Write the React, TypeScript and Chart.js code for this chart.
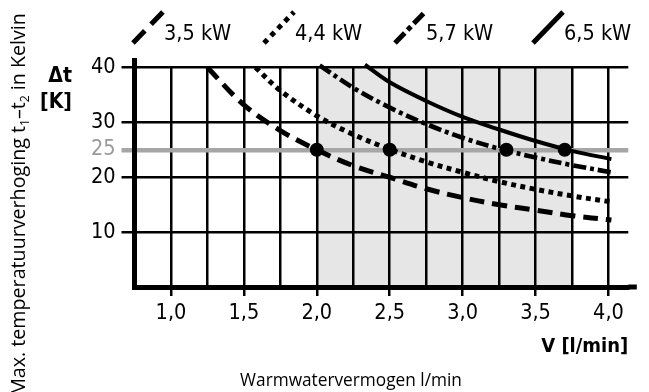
import React, { useEffect, useRef } from 'react';
import { Chart, registerables } from 'chart.js';

Chart.register(...registerables);

// ---------- data ----------
const seriesNames = ['3,5 kW', '4,4 kW', '5,7 kW', '6,5 kW'];

const flow35 = [1.25, 1.5, 1.75, 2.0, 2.25, 2.5, 2.75, 3.0, 3.25, 3.5, 3.75, 4.02];
const delta35 = [40.0, 33.2, 28.5, 25.0, 22.1, 20.0, 17.9, 16.3, 15.0, 14.0, 13.0, 12.2];

const flow44 = [1.58, 1.75, 2.0, 2.25, 2.5, 2.75, 3.0, 3.25, 3.5, 3.75, 4.02];
const delta44 = [40.0, 35.8, 31.2, 27.8, 25.1, 22.8, 20.9, 19.2, 17.8, 16.6, 15.5];

const flow57 = [2.02, 2.25, 2.5, 2.75, 3.0, 3.25, 3.5, 3.75, 4.02];
const delta57 = [40.4, 36.3, 32.7, 29.7, 27.2, 25.2, 23.6, 22.2, 20.9];

const flow65 = [2.33, 2.5, 2.75, 3.0, 3.25, 3.5, 3.75, 4.02];
const delta65 = [40.5, 37.3, 33.9, 31.0, 28.7, 26.6, 24.8, 23.3];

const markerFlow = [2.0, 2.5, 3.3, 3.7];
const markerDelta = [25, 25, 25, 25];

const xGridValues = [1.0, 1.25, 1.5, 1.75, 2.0, 2.25, 2.5, 2.75, 3.0, 3.25, 3.5, 3.75, 4.0];
const xLabelValues = [1.0, 1.5, 2.0, 2.5, 3.0, 3.5, 4.0];
const xLabelTexts = ['1,0', '1,5', '2,0', '2,5', '3,0', '3,5', '4,0'];
const yTickValues = [10, 20, 25, 30, 40];
const yTickLabels = ['10', '20', '25', '30', '40'];
const referenceDelta = 25;
const shadedFrom = 2.0;
const shadedTo = 3.75;

const xTitle = 'V [l/min]';
const yUnitTop = 'Δt';
const yUnitBottom = '[K]';
const bottomCaption = 'Warmwatervermogen l/min';
const sideTitleParts = [
  { t: 'Max. temperatuurverhoging t', sub: false },
  { t: '1', sub: true },
  { t: '–t', sub: false },
  { t: '2', sub: true },
  { t: ' in Kelvin', sub: false },
];

// ---------- styling ----------
const BLACK = '#000000';
const GRID_GREY = '#a6a6a6';
const LABEL_GREY = '#9a9a9a';
const SHADE = '#e6e6e6';
const CONDENSED = '"DejaVu Sans Condensed", "Liberation Sans Narrow", "DejaVu Sans", sans-serif';
const HUMANIST = '"Open Sans", "Noto Sans", "DejaVu Sans", sans-serif';

const seriesStyles = [
  { dash: [15, 8], width: 5, legendDash: [17, 9] },
  { dash: [5, 4.5], width: 5, legendDash: [5, 5] },
  { dash: [13, 4, 4, 4], width: 4.6, legendDash: [14, 4, 5, 4] },
  { dash: [], width: 4, legendDash: [] },
];
const legendX = [133, 264, 395, 533];

const curves = [
  { xs: flow35, ys: delta35 },
  { xs: flow44, ys: delta44 },
  { xs: flow57, ys: delta57 },
  { xs: flow65, ys: delta65 },
];

const near = (a: number, b: number) => Math.abs(a - b) < 1e-6;

const shadePlugin = {
  id: 'shadeBand',
  beforeDraw(chart: any) {
    const { ctx, scales } = chart;
    const x = scales.x, y = scales.y;
    const l = x.getPixelForValue(shadedFrom);
    const r = x.getPixelForValue(shadedTo);
    const t = y.getPixelForValue(y.max);
    const b = y.getPixelForValue(0);
    ctx.save();
    ctx.fillStyle = SHADE;
    ctx.fillRect(l, t, r - l, b - t);
    ctx.restore();
  },
};

const axisExtensionPlugin = {
  id: 'axisExtension',
  afterDraw(chart: any) {
    const { ctx, chartArea: ca } = chart;
    ctx.save();
    ctx.fillStyle = BLACK;
    ctx.fillRect(ca.left - 2.5, ca.top - 9.5, 5, 10);
    ctx.fillRect(ca.right, ca.bottom - 2.5, 8.5, 5);
    ctx.restore();
  },
};

const textPlugin = {
  id: 'extraText',
  afterDraw(chart: any) {
    const { ctx } = chart;
    ctx.save();
    ctx.fillStyle = BLACK;

    // unit label at top of y axis
    ctx.font = `bold 21px ${CONDENSED}`;
    ctx.textAlign = 'right';
    ctx.textBaseline = 'alphabetic';
    ctx.fillText(yUnitTop, 72, 81.5);
    ctx.fillText(yUnitBottom, 72, 108);

    // bottom caption
    ctx.font = `18px ${HUMANIST}`;
    const capW = ctx.measureText(bottomCaption).width;
    const capSize = 18 * 222 / capW;
    ctx.font = `${capSize}px ${HUMANIST}`;
    ctx.textAlign = 'center';
    ctx.fillText(bottomCaption, 351, 386);

    // rotated side title
    const base = 18;
    const measure = (size: number) => {
      let w = 0;
      sideTitleParts.forEach((p) => {
        ctx.font = `${p.sub ? size * 0.62 : size}px ${HUMANIST}`;
        w += ctx.measureText(p.t).width;
      });
      return w;
    };
    const size = base * 383 / measure(base);
    const total = measure(size);
    ctx.translate(25, 204.5);
    ctx.rotate(-Math.PI / 2);
    ctx.textAlign = 'left';
    let cx = -total / 2;
    sideTitleParts.forEach((p) => {
      ctx.font = `${p.sub ? size * 0.62 : size}px ${HUMANIST}`;
      ctx.fillText(p.t, cx, p.sub ? size * 0.2 : 0);
      cx += ctx.measureText(p.t).width;
    });
    ctx.restore();

    // legend
    ctx.save();
    chart.data.datasets.slice(0, seriesNames.length).forEach((ds: any, i: number) => {
      const x0 = legendX[i];
      ctx.strokeStyle = BLACK;
      ctx.lineWidth = 5;
      ctx.lineCap = 'butt';
      ctx.setLineDash(seriesStyles[i].legendDash);
      ctx.beginPath();
      ctx.moveTo(x0, 43);
      ctx.lineTo(x0 + 30, 12);
      ctx.stroke();
      ctx.setLineDash([]);
      ctx.fillStyle = BLACK;
      ctx.font = `21.5px ${CONDENSED}`;
      ctx.textAlign = 'left';
      ctx.textBaseline = 'alphabetic';
      ctx.fillText(ds.label, x0 + 31, 40);
    });
    ctx.restore();
  },
};

export default function App() {
  const ref = useRef<HTMLCanvasElement>(null);

  useEffect(() => {
    const lineSets: any[] = curves.map((c, i) => ({
      type: 'line',
      label: seriesNames[i],
      data: c.xs.map((x, j) => ({ x, y: c.ys[j] })),
      borderColor: BLACK,
      borderWidth: seriesStyles[i].width,
      borderDash: seriesStyles[i].dash,
      borderCapStyle: 'butt',
      pointRadius: 0,
      tension: 0.35,
      fill: false,
      clip: false,
      order: 2,
    }));
    const markerSet: any = {
      type: 'line',
      label: 'markers',
      data: markerFlow.map((x, j) => ({ x, y: markerDelta[j] })),
      showLine: false,
      pointRadius: 7,
      pointBackgroundColor: BLACK,
      pointBorderWidth: 0,
      borderColor: BLACK,
      clip: false,
      order: 0,
    };

    const chart = new Chart(ref.current as HTMLCanvasElement, {
      type: 'line',
      data: { datasets: [...lineSets, markerSet] },
      options: {
        responsive: false,
        devicePixelRatio: 1,
        animation: false,
        events: [],
        layout: { padding: { top: 67.5, right: 20.7, left: 0, bottom: 0 } },
        plugins: {
          legend: { display: false },
          tooltip: { enabled: false },
        },
        scales: {
          x: {
            type: 'linear',
            min: 0.75,
            max: 4.136,
            afterFit: (s: any) => { s.height = 105; },
            afterBuildTicks: (s: any) => { s.ticks = xGridValues.map((v) => ({ value: v })); },
            grid: {
              color: BLACK,
              lineWidth: 2.5,
              drawTicks: true,
              tickLength: 9,
              tickWidth: 2.5,
              tickColor: (c: any) =>
                c.tick && xLabelValues.some((v) => near(v, c.tick.value)) ? BLACK : 'rgba(0,0,0,0)',
            },
            border: { display: true, color: BLACK, width: 5 },
            ticks: {
              autoSkip: false,
              maxRotation: 0,
              padding: 5,
              color: BLACK,
              font: { family: CONDENSED, size: 21.5 },
              callback: (v: any) => {
                const i = xLabelValues.findIndex((l) => near(l, Number(v)));
                return i >= 0 ? xLabelTexts[i] : '';
              },
            },
            title: {
              display: true,
              text: xTitle,
              align: 'end',
              color: BLACK,
              font: { family: CONDENSED, size: 20, weight: 'bold' },
              padding: { top: 0, bottom: 33 },
            },
          },
          y: {
            type: 'linear',
            min: 0,
            max: 40,
            afterFit: (s: any) => { s.width = 134.5; },
            afterBuildTicks: (s: any) => { s.ticks = yTickValues.map((v) => ({ value: v })); },
            grid: {
              color: (c: any) => (c.tick && c.tick.value === referenceDelta ? GRID_GREY : BLACK),
              lineWidth: (c: any) => (c.tick && c.tick.value === referenceDelta ? 4.5 : 2.5),
              drawTicks: true,
              tickLength: 13,
            },
            border: { display: true, color: BLACK, width: 5 },
            ticks: {
              padding: 6,
              color: (c: any) => (c.tick && c.tick.value === referenceDelta ? LABEL_GREY : BLACK),
              font: { family: CONDENSED, size: 21.5 },
              callback: (v: any) => {
                const i = yTickValues.indexOf(Number(v));
                return i >= 0 ? yTickLabels[i] : '';
              },
            },
          },
        },
      } as any,
      plugins: [shadePlugin, axisExtensionPlugin, textPlugin],
    } as any);

    return () => chart.destroy();
  }, []);

  return (
    <div style={{ position: 'absolute', left: 0, top: 0, width: 649, height: 392, background: '#ffffff' }}>
      <canvas ref={ref} width={649} height={392} style={{ display: 'block', width: 649, height: 392 }} />
    </div>
  );
}
